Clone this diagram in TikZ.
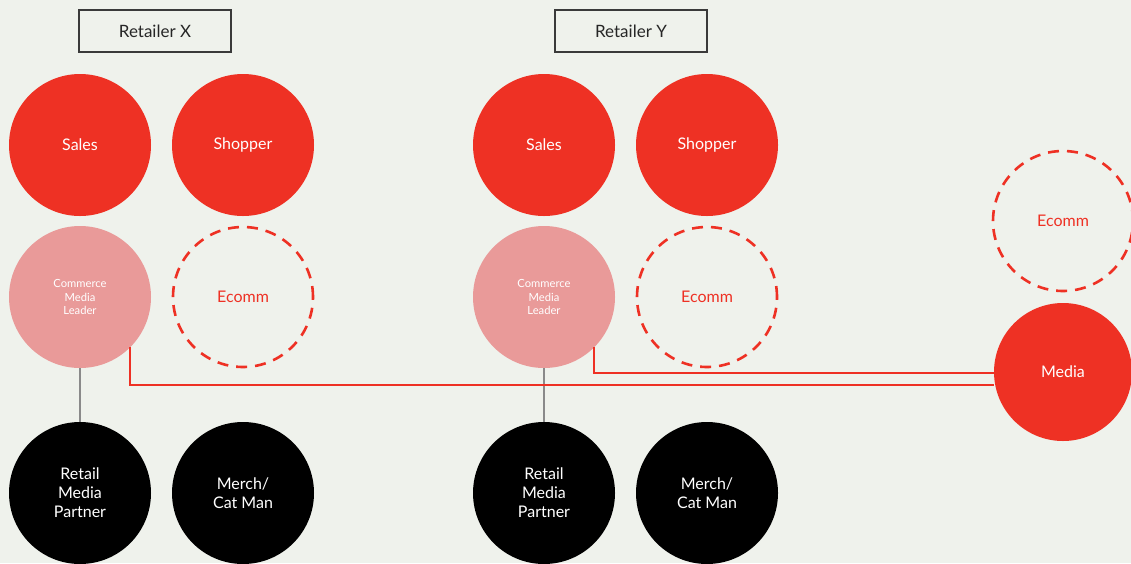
\documentclass[tikz,border=0pt]{standalone}
\usepackage{fontspec}
\setmainfont{Lato}
\begin{document}
\definecolor{bg}{HTML}{EFF2EC}
\definecolor{rred}{HTML}{EE3124}
\definecolor{rpink}{HTML}{E99A99}
\definecolor{boxline}{HTML}{3A3A3A}
\definecolor{stem}{HTML}{8A8A8A}
\begin{tikzpicture}[x=1pt,y=-1pt,
  every node/.style={inner sep=0pt, align=center},
  team/.style={circle, minimum size=142pt, text=white, font=\fontsize{16}{19}\selectfont},
  redteam/.style={team, fill=rred},
  pinkteam/.style={team, fill=rpink, font=\fontsize{11.2}{13.8}\selectfont},
  blackteam/.style={team, fill=black},
  dashteam/.style={circle, minimum size=140pt, draw=rred, line width=2.6pt,
    dash pattern=on 11pt off 8pt, text=rred, font=\fontsize{16}{19}\selectfont},
  retailer/.style={draw=boxline, line width=1.4pt, fill=bg, minimum width=152pt,
    minimum height=42pt, font=\fontsize{17}{20}\selectfont, text=black!85},
  link/.style={draw=rred, line width=1.8pt},
  stemline/.style={draw=stem, line width=2pt}]
\fill[bg] (0,0) rectangle (1131,563);
\useasboundingbox (0,0) rectangle (1131,563);

% Retailer X
\node[retailer] (rx) at (155,31) {Retailer X};
\node[redteam] (salesx) at (80,145) {Sales};
\node[redteam] (shopx) at (243,145) {Shopper\vphantom{S}};
\node[pinkteam] (cmlx) at (80,297) {Commerce\\Media\\Leader};
\node[dashteam] (ecx) at (243,297) {Ecomm};
\node[blackteam] (rmpx) at (80,493) {Retail\\Media\\Partner};
\node[blackteam] (merchx) at (243,493) {Merch/\\Cat Man};

% Retailer Y
\node[retailer] (ry) at (631,31) {Retailer Y};
\node[redteam] (salesy) at (544,145) {Sales};
\node[redteam] (shopy) at (707,145) {Shopper\vphantom{S}};
\node[pinkteam] (cmly) at (544,297) {Commerce\\Media\\Leader};
\node[dashteam] (ecy) at (707,297) {Ecomm};
\node[blackteam] (rmpy) at (544,493) {Retail\\Media\\Partner};
\node[blackteam] (merchy) at (707,493) {Merch/\\Cat Man};

% Central teams
\node[dashteam] (ecm) at (1063,221) {Ecomm};
\node[redteam, minimum size=138pt] (media) at (1063,372) {Media};

% Reporting stems
\draw[stemline] (cmlx.south) -- (rmpx.north);
\draw[stemline] (cmly.south) -- (rmpy.north);

% Links to central media
\coordinate (jx) at (131,385);
\coordinate (jy) at (594.5,373);
\draw[link] (cmlx.-45) |- (jx) -- (jx -| media.west);
\draw[link] (cmly.-45) |- (jy) -- (media.west |- jy);
\end{tikzpicture}
\end{document}
